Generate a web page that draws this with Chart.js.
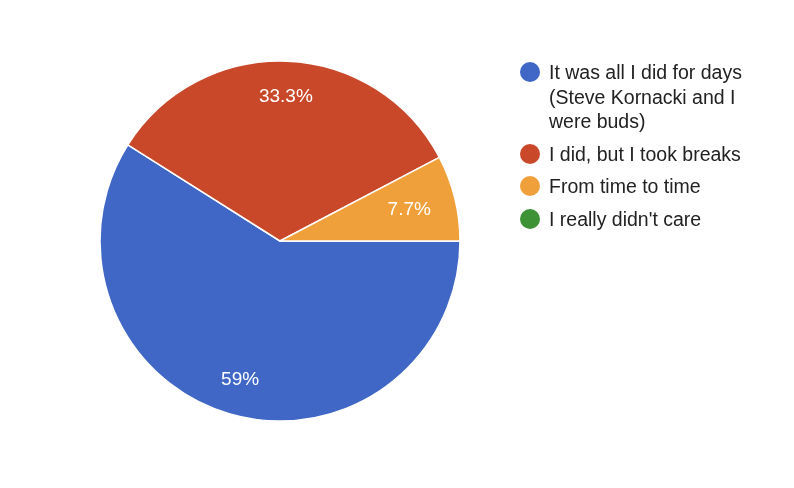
<!DOCTYPE html>
<html lang="en">
<head>
    <meta charset="UTF-8">
    <title>Poll results</title>
    <script src="https://cdn.jsdelivr.net/npm/chart.js"></script>
    <style>
        body {
            margin: 0;
            background: #ffffff;
            font-family: "Liberation Sans", Arial, sans-serif;
        }

        .wrap {
            position: relative;
            width: 794px;
            height: 488px;
        }

        #pieChart {
            position: absolute;
            left: 0;
            top: 0;
        }

        #legend {
            position: absolute;
            left: 520px;
            top: 60px;
            margin: 0;
            padding: 0;
            list-style: none;
            font-size: 19.5px;
            line-height: 24.5px;
            color: #222222;
        }

        #legend li {
            position: relative;
            padding-left: 29px;
            margin-bottom: 8px;
        }

        #legend .dot {
            position: absolute;
            left: 0;
            top: 2px;
            width: 20px;
            height: 20px;
            border-radius: 50%;
        }
    </style>
</head>
<body>
    <div class="wrap">
        <canvas id="pieChart" width="794" height="488"></canvas>
        <ul id="legend"></ul>
    </div>

    <script>
        // answers (first one wraps over three lines in the legend)
        const answers = [
            ["It was all I did for days", "(Steve Kornacki and I", "were buds)"],
            ["I did, but I took breaks"],
            ["From time to time"],
            ["I really didn't care"]
        ];
        const responses = [23, 13, 3, 0];
        const sliceColors = ["#4067c6", "#c9482a", "#f0a03a", "#3d9236"];

        const total = responses.reduce((a, b) => a + b, 0);

        // legend built as html so the long answer can wrap
        const legend = document.getElementById("legend");
        answers.forEach((lines, i) => {
            const li = document.createElement("li");
            const dot = document.createElement("span");
            dot.className = "dot";
            dot.style.background = sliceColors[i];
            li.appendChild(dot);
            lines.forEach((line, j) => {
                if (j > 0) li.appendChild(document.createElement("br"));
                li.appendChild(document.createTextNode(line));
            });
            legend.appendChild(li);
        });

        // percent labels inside the slices, pushed out until the
        // far corner of the text box sits at ~86% of the radius
        const sliceLabels = {
            id: "sliceLabels",
            afterDatasetsDraw(chart) {
                const ctx = chart.ctx;
                const meta = chart.getDatasetMeta(0);
                ctx.save();
                ctx.fillStyle = "#ffffff";
                ctx.font = "19px 'Liberation Sans', Arial, sans-serif";
                ctx.textAlign = "center";
                ctx.textBaseline = "middle";
                meta.data.forEach((arc, i) => {
                    const value = responses[i];
                    if (!value) return;
                    const pct = Math.round(value / total * 1000) / 10;
                    const text = pct + "%";
                    const mid = (arc.startAngle + arc.endAngle) / 2;
                    const ux = Math.cos(mid), uy = Math.sin(mid);
                    const cx = Math.sign(ux) * ctx.measureText(text).width / 2;
                    const cy = Math.sign(uy) * 6.5;
                    const R = arc.outerRadius * 0.865;
                    const dot = ux * cx + uy * cy;
                    const d = -dot + Math.sqrt(dot * dot - (cx * cx + cy * cy) + R * R);
                    ctx.fillText(text, arc.x + ux * d, arc.y + uy * d + 1);
                });
                ctx.restore();
            }
        };

        new Chart(document.getElementById("pieChart"), {
            type: "pie",
            data: {
                labels: answers.map(a => a.join(" ")),
                datasets: [{
                    data: responses,
                    backgroundColor: sliceColors,
                    borderColor: "#ffffff",
                    borderWidth: 1.5
                }]
            },
            options: {
                responsive: false,
                animation: false,
                rotation: 90,
                radius: 180,
                layout: {
                    padding: { left: 0, top: 0, right: 234, bottom: 6 }
                },
                plugins: {
                    legend: { display: false },
                    tooltip: { enabled: false }
                }
            },
            plugins: [sliceLabels]
        });
    </script>
</body>
</html>
